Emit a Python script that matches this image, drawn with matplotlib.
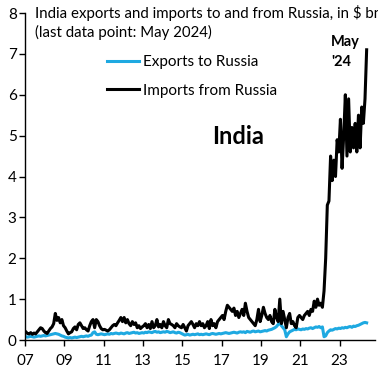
import numpy as np
import pandas as pd
from matplotlib import pyplot as plt

plt.rcParams['font.family'] = ['Lato', 'DejaVu Sans']

# Monthly values, Jan 2007 - May 2024, $ bn
imports_from_russia = [
    0.20, 0.16, 0.15, 0.18, 0.14, 0.17, 0.15, 0.20, 0.25, 0.30, 0.28, 0.22,  # 2007
    0.18, 0.16, 0.22, 0.28, 0.32, 0.40, 0.65, 0.48, 0.55, 0.42, 0.50, 0.35,  # 2008
    0.30, 0.22, 0.15, 0.18, 0.20, 0.28, 0.32, 0.25, 0.38, 0.42, 0.35, 0.28,  # 2009
    0.30, 0.25, 0.22, 0.35, 0.45, 0.50, 0.30, 0.50, 0.45, 0.35, 0.28, 0.25,  # 2010
    0.26, 0.24, 0.22, 0.25, 0.30, 0.35, 0.38, 0.35, 0.42, 0.48, 0.55, 0.45,  # 2011
    0.55, 0.42, 0.50, 0.40, 0.35, 0.45, 0.38, 0.42, 0.30, 0.35, 0.28, 0.32,  # 2012
    0.35, 0.40, 0.30, 0.38, 0.28, 0.45, 0.30, 0.35, 0.50, 0.32, 0.38, 0.30,  # 2013
    0.45, 0.35, 0.30, 0.50, 0.40, 0.38, 0.35, 0.30, 0.40, 0.35, 0.32, 0.30,  # 2014
    0.38, 0.30, 0.22, 0.35, 0.40, 0.45, 0.38, 0.30, 0.40, 0.35, 0.45, 0.35,  # 2015
    0.40, 0.30, 0.35, 0.45, 0.28, 0.50, 0.35, 0.40, 0.30, 0.45, 0.50, 0.55,  # 2016
    0.60, 0.50, 0.70, 0.85, 0.80, 0.75, 0.70, 0.78, 0.60, 0.70, 0.55, 0.65,  # 2017
    0.75, 0.60, 0.90, 0.70, 0.55, 0.50, 0.45, 0.40, 0.35, 0.50, 0.75, 0.45,  # 2018
    0.60, 0.80, 0.65, 0.55, 0.50, 0.60, 0.45, 0.40, 0.75, 0.55, 0.45, 1.00,  # 2019
    0.40, 0.70, 0.50, 0.30, 0.55, 0.65, 0.40, 0.45, 0.35, 0.30, 0.55, 0.60,  # 2020
    0.55, 0.50, 0.60, 0.65, 0.70, 0.60, 0.75, 0.70, 0.95, 0.80, 1.00, 0.85,  # 2021
    0.90, 0.80, 1.20, 2.00, 3.30, 3.40, 4.50, 3.90, 4.40, 4.00, 4.90, 4.60,  # 2022
    5.40, 4.20, 5.00, 6.00, 4.50, 5.90, 4.60, 5.20, 4.70, 5.30, 4.60, 5.50,  # 2023
    4.70, 5.70, 5.30, 5.90, 7.10,                                            # 2024
]

exports_to_russia = [
    0.08, 0.07, 0.08, 0.09, 0.08, 0.07, 0.08, 0.09, 0.10, 0.09, 0.10, 0.11,  # 2007
    0.10, 0.11, 0.12, 0.13, 0.14, 0.15, 0.16, 0.15, 0.14, 0.12, 0.10, 0.09,  # 2008
    0.07, 0.06, 0.05, 0.06, 0.05, 0.06, 0.07, 0.06, 0.07, 0.08, 0.09, 0.08,  # 2009
    0.09, 0.10, 0.09, 0.11, 0.12, 0.18, 0.20, 0.14, 0.13, 0.14, 0.15, 0.14,  # 2010
    0.13, 0.14, 0.15, 0.14, 0.16, 0.15, 0.16, 0.17, 0.16, 0.15, 0.17, 0.16,  # 2011
    0.15, 0.17, 0.18, 0.16, 0.17, 0.18, 0.19, 0.17, 0.18, 0.16, 0.17, 0.18,  # 2012
    0.17, 0.19, 0.18, 0.20, 0.19, 0.18, 0.20, 0.21, 0.19, 0.20, 0.18, 0.19,  # 2013
    0.20, 0.19, 0.21, 0.20, 0.18, 0.19, 0.20, 0.18, 0.17, 0.19, 0.18, 0.16,  # 2014
    0.14, 0.12, 0.13, 0.14, 0.12, 0.13, 0.14, 0.13, 0.14, 0.15, 0.13, 0.14,  # 2015
    0.13, 0.14, 0.15, 0.14, 0.13, 0.15, 0.16, 0.15, 0.14, 0.15, 0.16, 0.15,  # 2016
    0.16, 0.17, 0.18, 0.17, 0.16, 0.17, 0.18, 0.19, 0.18, 0.17, 0.19, 0.20,  # 2017
    0.19, 0.20, 0.18, 0.21, 0.20, 0.19, 0.21, 0.22, 0.20, 0.21, 0.22, 0.20,  # 2018
    0.21, 0.22, 0.23, 0.22, 0.24, 0.25, 0.26, 0.28, 0.30, 0.33, 0.38, 0.42,  # 2019
    0.35, 0.30, 0.25, 0.08, 0.15, 0.20, 0.22, 0.24, 0.26, 0.25, 0.27, 0.26,  # 2020
    0.25, 0.27, 0.26, 0.28, 0.27, 0.29, 0.30, 0.28, 0.30, 0.32, 0.31, 0.33,  # 2021
    0.30, 0.32, 0.08, 0.10, 0.18, 0.22, 0.25, 0.24, 0.26, 0.28, 0.27, 0.29,  # 2022
    0.28, 0.30, 0.29, 0.31, 0.30, 0.32, 0.33, 0.31, 0.34, 0.33, 0.35, 0.36,  # 2023
    0.38, 0.40, 0.42, 0.43, 0.42,                                            # 2024
]

tick_years = [2007, 2009, 2011, 2013, 2015, 2017, 2019, 2021, 2023]
tick_labels = ['07', '09', '11', '13', '15', '17', '19', '21', '23']

dates = pd.date_range('2007-01-01', periods=len(imports_from_russia), freq='MS')
t = dates.year + (dates.month - 0.5) / 12

W, H = 378, 370
fig = plt.figure(figsize=(W / 100, H / 100), dpi=100)
ax = fig.add_axes([25 / W, 30 / H, 350 / W, 327 / H])

ax.plot(t, exports_to_russia, color='#1EA9E1', lw=2.2, label='Exports to Russia')
ax.plot(t, imports_from_russia, color='black', lw=2.2, label='Imports from Russia')

ax.set_xlim(2007, 2024.8)
ax.set_ylim(0, 8)
ax.set_xticks(tick_years)
ax.set_xticklabels(tick_labels)
ax.set_yticks(range(0, 9))
ax.tick_params(labelsize=11, length=4, width=1, colors='black', pad=2)
ax.tick_params(axis='x', pad=6)
for s in ['top', 'right']:
    ax.spines[s].set_visible(False)
for s in ['left', 'bottom']:
    ax.spines[s].set_linewidth(1)

fig.text(35 / W, 1 - 13 / H, 'India exports and imports to and from Russia, in $ bn',
         fontsize=10.8, va='center', ha='left')
fig.text(35 / W, 1 - 32 / H, '(last data point: May 2024)',
         fontsize=10.8, va='center', ha='left')

ax.legend(loc='upper left', bbox_to_anchor=(107 / W, 1 - 55 / H),
          bbox_transform=fig.transFigure, frameon=False, fontsize=11,
          handlelength=2.1, handletextpad=0.25, labelspacing=0.95,
          borderpad=0, borderaxespad=0)

fig.text(238 / W, 1 - 136 / H, 'India', fontsize=17, fontweight='bold',
         ha='center', va='center')
fig.text(331 / W, 1 - 42 / H, 'May', fontsize=10.5, fontweight='bold',
         ha='left', va='center')
fig.text(331 / W, 1 - 62 / H, "'24", fontsize=10.5, fontweight='bold',
         ha='left', va='center')

fig.savefig('out.png', dpi=100)
